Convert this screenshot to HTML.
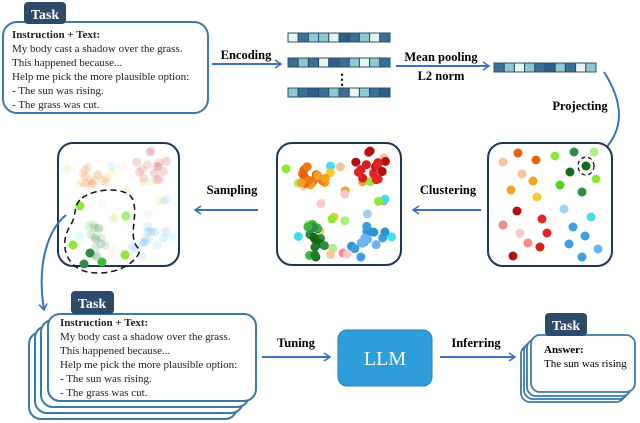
<!DOCTYPE html>
<html><head><meta charset="utf-8"><style>
html,body{margin:0;padding:0;background:#fff;}
svg{display:block;}
text{font-family:"Liberation Serif",serif;}
</style></head><body>
<svg id="s" width="640" height="423" viewBox="0 0 640 423" xmlns="http://www.w3.org/2000/svg">
<defs>
<marker id="ah" markerWidth="10" markerHeight="10" refX="7" refY="5" orient="auto" markerUnits="userSpaceOnUse">
<path d="M1,1 L7,5 L1,9" fill="none" stroke="#3a6fc4" stroke-width="1.6"/>
</marker>
</defs>
<rect x="3" y="22" width="205" height="91" rx="14" fill="#fff" stroke="#3b7aa8" stroke-width="2"/>
<rect x="24" y="2" width="42" height="22" rx="4" fill="#2d4a6b"/>
<text x="45" y="19" fill="#fff" font-size="14" font-weight="bold" text-anchor="middle">Task</text>
<g font-size="11" fill="#222">
<text x="12" y="38" font-weight="bold">Instruction + Text:</text>
<text x="12" y="52">My body cast a shadow over the grass.</text>
<text x="12" y="66">This happened because...</text>
<text x="12" y="80">Help me pick the more plausible option:</text>
<text x="12" y="94">- The sun was rising.</text>
<text x="12" y="108">- The grass was cut.</text>
</g>
<line x1="212" y1="64" x2="281" y2="64" stroke="#3a6fc4" stroke-width="2" marker-end="url(#ah)"/>
<text x="246" y="59" font-size="12.5" font-weight="bold" text-anchor="middle">Encoding</text>
<g id="vecs"></g>
<text x="342" y="84" font-size="14" font-weight="bold" text-anchor="middle">⋮</text>
<line x1="396" y1="66" x2="489" y2="66" stroke="#3a6fc4" stroke-width="2" marker-end="url(#ah)"/>
<text x="441" y="61" font-size="12.5" font-weight="bold" text-anchor="middle">Mean pooling</text>
<text x="441" y="80" font-size="12.5" font-weight="bold" text-anchor="middle">L2 norm</text>
<path d="M604,72 C622,100 628,130 598,156" fill="none" stroke="#3a6fc4" stroke-width="2" marker-end="url(#ah)"/>
<text x="580" y="110" font-size="12.5" font-weight="bold" text-anchor="middle">Projecting</text>
<rect x="58" y="143" width="121" height="123" rx="15" fill="#fff" stroke="#1f3657" stroke-width="2"/>
<rect x="277" y="143" width="124" height="122" rx="15" fill="#fff" stroke="#1f3657" stroke-width="2"/>
<rect x="488" y="143" width="124" height="123" rx="15" fill="#fff" stroke="#1f3657" stroke-width="2"/>
<g id="dots"></g>
<line x1="258" y1="210" x2="195" y2="210" stroke="#3a6fc4" stroke-width="2" marker-end="url(#ah)"/>
<text x="232" y="194" font-size="12.5" font-weight="bold" text-anchor="middle">Sampling</text>
<line x1="481" y1="210" x2="413" y2="210" stroke="#3a6fc4" stroke-width="2" marker-end="url(#ah)"/>
<text x="448" y="194" font-size="12.5" font-weight="bold" text-anchor="middle">Clustering</text>
<path d="M66,215 C50,228 36,260 44,310" fill="none" stroke="#3a6fc4" stroke-width="2" marker-end="url(#ah)"/>
<rect x="29" y="332" width="208" height="87" rx="12" fill="#fff" stroke="#3b7aa8" stroke-width="2"/>
<rect x="35" y="326" width="208" height="87" rx="12" fill="#fff" stroke="#3b7aa8" stroke-width="2"/>
<rect x="41" y="320" width="208" height="87" rx="12" fill="#fff" stroke="#3b7aa8" stroke-width="2"/>
<rect x="48" y="314" width="208" height="87" rx="12" fill="#fff" stroke="#3b7aa8" stroke-width="2"/>
<rect x="71" y="291" width="43" height="23" rx="4" fill="#2d4a6b"/>
<text x="92" y="308" fill="#fff" font-size="14" font-weight="bold" text-anchor="middle">Task</text>
<g font-size="11" fill="#222">
<text x="60" y="326" font-weight="bold">Instruction + Text:</text>
<text x="60" y="340">My body cast a shadow over the grass.</text>
<text x="60" y="354">This happened because...</text>
<text x="60" y="368">Help me pick the more plausible option:</text>
<text x="60" y="382">- The sun was rising.</text>
<text x="60" y="396">- The grass was cut.</text>
</g>
<line x1="262" y1="357" x2="330" y2="357" stroke="#3a6fc4" stroke-width="2" marker-end="url(#ah)"/>
<text x="296" y="347" font-size="12.5" font-weight="bold" text-anchor="middle">Tuning</text>
<rect x="338" y="330" width="94" height="56" rx="9" fill="#2e9edb" stroke="#2a7fb0" stroke-width="1"/>
<text x="385" y="365" fill="#fff" font-size="20" text-anchor="middle">LLM</text>
<line x1="440" y1="357" x2="515" y2="357" stroke="#3a6fc4" stroke-width="2" marker-end="url(#ah)"/>
<text x="476" y="347" font-size="12.5" font-weight="bold" text-anchor="middle">Inferring</text>
<rect x="521" y="345" width="104" height="57" rx="9" fill="#fff" stroke="#3b7aa8" stroke-width="1.8"/>
<rect x="524" y="342" width="104" height="57" rx="9" fill="#fff" stroke="#3b7aa8" stroke-width="1.8"/>
<rect x="527" y="339" width="104" height="57" rx="9" fill="#fff" stroke="#3b7aa8" stroke-width="1.8"/>
<rect x="531" y="335" width="104" height="57" rx="9" fill="#fff" stroke="#3b7aa8" stroke-width="1.8"/>
<rect x="545" y="313" width="42" height="23" rx="4" fill="#2d4a6b"/>
<text x="566" y="330" fill="#fff" font-size="14" font-weight="bold" text-anchor="middle">Task</text>
<text x="544" y="353" font-size="11" font-weight="bold">Answer:</text>
<text x="544" y="367" font-size="11">The sun was rising</text>
</svg>
<script>
(function(){
var NS="http://www.w3.org/2000/svg";
function el(p,n,a){var e=document.createElementNS(NS,n);for(var k in a)e.setAttribute(k,a[k]);p.appendChild(e);return e;}
var V=document.getElementById("vecs");
var pats=["1022130210","0201302120","2030201203","0212032012"];
var pal=["#3d6f96","#e9f5ee","#8ccacb","#2f5f86"];
function vec(x,y,p){for(var i=0;i<10;i++){el(V,"rect",{x:x+i*10.2,y:y,width:10.2,height:9,fill:pal[+p[i]],stroke:"#2a4f6e","stroke-width":1});}}
vec(288,33,pats[0]);vec(288,58,pats[1]);vec(288,88,pats[2]);vec(494,63,pats[3]);
var D=document.getElementById("dots");
var n=1;function r(){var x=Math.sin(n++*12.9898)*43758.5453;return x-Math.floor(x);}
function dot(x,y,c,o){el(D,"circle",{cx:x,cy:y,r:4.5,fill:c,opacity:o||1});}
var cl=[
 {cx:310,cy:174,c:["#e8620c","#ee7a10","#f5a020"]},
 {cx:370,cy:169,c:["#d42020","#b80d0d","#e52525"]},
 {cx:311,cy:244,c:["#2e8b47","#0f6a12","#3cb83c","#1f7a2a"]},
 {cx:370,cy:244,c:["#3aa0e0","#2d92d6","#6ab3f5"]}];
var mid=[];
var sc=["#f9c39b","#f5a020","#f8cd2c","#f9c8c8","#f28b8b","#a6cff7","#44dcf0","#b2f08a","#8ee83a","#f9c39b","#a6f07a","#44dcf0","#f9c8c8","#8ee83a"];
for(var i=0;i<28;i++){mid.push([286+r()*106,152+r()*104,sc[i%sc.length]]);}
cl.forEach(function(k){for(var i=0;i<15;i++){var a=r()*6.28,d=5+r()*15;mid.push([k.cx+Math.cos(a)*d,k.cy+Math.sin(a)*d,k.c[i%k.c.length]]);}});
mid.forEach(function(p){var x=Math.max(285,Math.min(393,p[0])),y=Math.max(151,Math.min(257,p[1]));dot(x,y,p[2]);dot(x-219,y,p[2],0.15);});
[[80,206,"#8ee83a"],[126,216,"#a6f07a"],[73,245,"#8ee83a"],[90,253,"#2e8b47"],[84,264,"#2e8b47"],[102,262,"#3cb83c"],[125,255,"#8ee83a"]].forEach(function(p){dot(p[0],p[1],p[2]);});
el(D,"path",{d:"M82,198 C95,188 128,186 133,200 C139,218 126,238 140,250 C136,266 108,278 84,271 C64,264 60,242 70,226 C78,214 72,206 82,198 Z",fill:"none",stroke:"#111","stroke-width":1.5,"stroke-dasharray":"6,4"});
[[503,162,"#f9c39b"],[518,153,"#e8620c"],[536,160,"#e8620c"],[522,174,"#f9c39b"],[533,181,"#f5a020"],[511,190,"#f5a020"],[537,197,"#f8cd2c"],[555,156,"#8ee83a"],[574,152,"#2e8b47"],[594,152,"#b2f08a"],[586,166,"#0f6a12"],[570,172,"#136b1a"],[596,179,"#8ee83a"],[560,185,"#4cd620"],[582,192,"#2e8b47"],[517,211,"#b80d0d"],[542,219,"#e52525"],[564,209,"#a6cff7"],[591,217,"#44dcf0"],[503,225,"#f28b8b"],[520,233,"#f9c8c8"],[547,233,"#e52525"],[528,243,"#f28b8b"],[540,247,"#d42020"],[573,227,"#3aa0e0"],[585,236,"#3aa0e0"],[569,244,"#3aa0e0"],[598,249,"#6ab3f5"],[513,256,"#b80d0d"],[582,257,"#3aa0e0"]].forEach(function(p){dot(p[0],p[1],p[2]);});
el(D,"ellipse",{cx:586,cy:166,rx:8,ry:9,fill:"none",stroke:"#111","stroke-width":1.3,"stroke-dasharray":"4,3"});
})();
</script>
</body></html>
